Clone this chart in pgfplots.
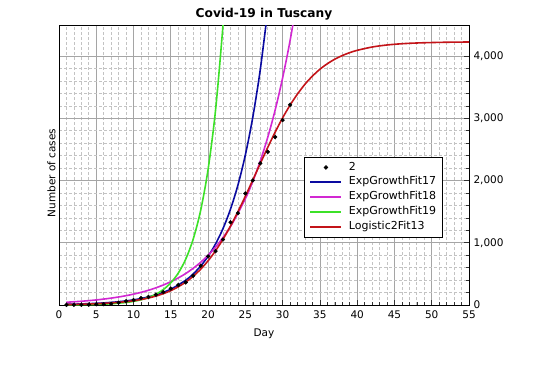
\documentclass[border=0pt]{standalone}
\usepackage{fontspec}
\setmainfont{DejaVu Sans}
\usepackage{pgfplots}
\pgfplotsset{compat=1.18}
\definecolor{fitblue}{RGB}{10,10,160}
\definecolor{fitmag}{RGB}{210,40,210}
\definecolor{fitgreen}{RGB}{60,225,40}
\definecolor{fitred}{RGB}{195,20,25}
\definecolor{gridmaj}{RGB}{165,165,165}
\definecolor{gridmin}{RGB}{195,195,195}
\pgfplotsset{
  linelegend/.style={legend image code/.code={\draw[##1, line width=2pt] (0pt,0pt) -- (31pt,0pt);}},
  dotlegend/.style={legend image code/.code={\draw[##1] plot coordinates {(15.5pt,0pt)};}},
}
\begin{document}
\begin{tikzpicture}[x=1pt,y=1pt]
\path[use as bounding box] (0,0) rectangle (540,380);
\begin{axis}[
  at={(59pt,75pt)}, anchor=south west,
  width=410pt, height=280pt, scale only axis,
  xmin=0, xmax=55, ymin=0, ymax=4500,
  xtick={0,5,...,55}, ytick={0,1000,2000,3000,4000},
  minor x tick num=4, minor y tick num=4,
  grid=both,
  major grid style={gridmaj, line width=0.8pt},
  minor grid style={gridmin, dash pattern=on 3pt off 2pt, line width=0.7pt},
  axis line style={black, line width=0.7pt},
  xtick pos=left, ytick pos=right, yticklabel pos=right,
  tick align=inside,
  major tick length=5pt, minor tick length=3pt,
  tick style={black!80, line width=0.6pt},
  /pgf/number format/assume math mode=true,
  /pgf/number format/1000 sep={,},
  tick label style={font=\fontsize{10.5}{12}\selectfont},
  xticklabel style={yshift=-2pt},
  yticklabel style={xshift=1pt},
  title={Covid-19 in Tuscany},
  title style={font=\bfseries\fontsize{12.2}{14}\selectfont, at={(0.5,1)}, anchor=base, yshift=2pt},
  xlabel={Day}, ylabel={Number of cases},
  label style={font=\fontsize{10.5}{12}\selectfont},
  xlabel style={at={(axis description cs:0.5,0)}, anchor=north, yshift=-20pt},
  ylabel style={at={(axis description cs:0,0.5)}, anchor=south, xshift=-8pt},
  legend cell align=left,
  legend style={at={(0.598,0.529)}, anchor=north west, draw=black, line width=0.6pt,
    font=\fontsize{11}{12}\selectfont, inner xsep=5pt, inner ysep=3.5pt,
    nodes={inner sep=1.5pt, text depth=0.25em, text height=0.8em}, row sep=1.3pt,
    /tikz/every odd column/.append style={column sep=5pt}},
  linelegend,
]
\addplot[only marks, mark=*, mark size=1.9pt, black, dotlegend]
  coordinates {(1,2)(2,2)(3,2)(4,5)(5,11)(6,13)(7,19)(8,38)(9,61)(10,79)(11,113)(12,129)(13,166)(14,208)(15,264)(16,320)(17,364)(18,470)(19,630)(20,781)(21,866)(22,1053)(23,1330)(24,1476)(25,1793)(26,2001)(27,2277)(28,2461)(29,2699)(30,2972)(31,3217)};
\addlegendentry{2}
\addplot[fitblue, line width=1.6pt, smooth]
  coordinates {(1,10.9)(3,17.1)(5,26.8)(7,42)(9,66)(11,103)(13,162)(15,254)(17,398)(18,499)(19,625)(20,783)(21,981)(22,1228)(23,1538)(24,1926)(25,2412)(26,3021)(27,3782)(28,4738)};
\addlegendentry{ExpGrowthFit17}
\addplot[fitmag, line width=1.6pt, smooth]
  coordinates {(1,44.5)(3,60.3)(5,81.7)(7,110.7)(9,150)(11,203)(13,276)(15,374)(17,506)(19,686)(21,930)(23,1260)(25,1708)(26,1988)(27,2314)(28,2694)(29,3136)(30,3651)(31,4250)(32,4948)};
\addlegendentry{ExpGrowthFit18}
\addplot[fitgreen, line width=1.6pt, smooth]
  coordinates {(1,2.2)(3,4.6)(5,9.6)(7,19.7)(9,40.7)(10,58.4)(11,83.9)(12,120.5)(13,173)(14,248.7)(15,357)(16,513)(17,736)(18,1058)(19,1519)(20,2180)(21,3132)(22,4497)(22.5,5388)};
\addlegendentry{ExpGrowthFit19}
\addplot[fitred, line width=1.6pt, smooth]
  coordinates {(1,7.4)(3,12.2)(5,20)(7,32.9)(9,53.9)(10,69)(11,88.1)(12,112.5)(13,143.4)(14,182.3)(15,231.3)(16,292.5)(17,368.2)(18,461.5)(19,574.7)(20,710.6)(21,870.9)(22,1056)(23,1267)(24,1499)(25,1749)(26,2010)(27,2273)(28,2532)(29,2779)(30,3008)(31,3213)(32,3392)(33,3549)(34,3679)(35,3789)(36,3878)(37,3951)(38,4009)(39,4056)(40,4093)(42,4146)(44,4179)(46,4199)(48,4211)(50,4218)(52,4223)(55,4227)};
\addlegendentry{Logistic2Fit13}
\end{axis}
\end{tikzpicture}
\end{document}
